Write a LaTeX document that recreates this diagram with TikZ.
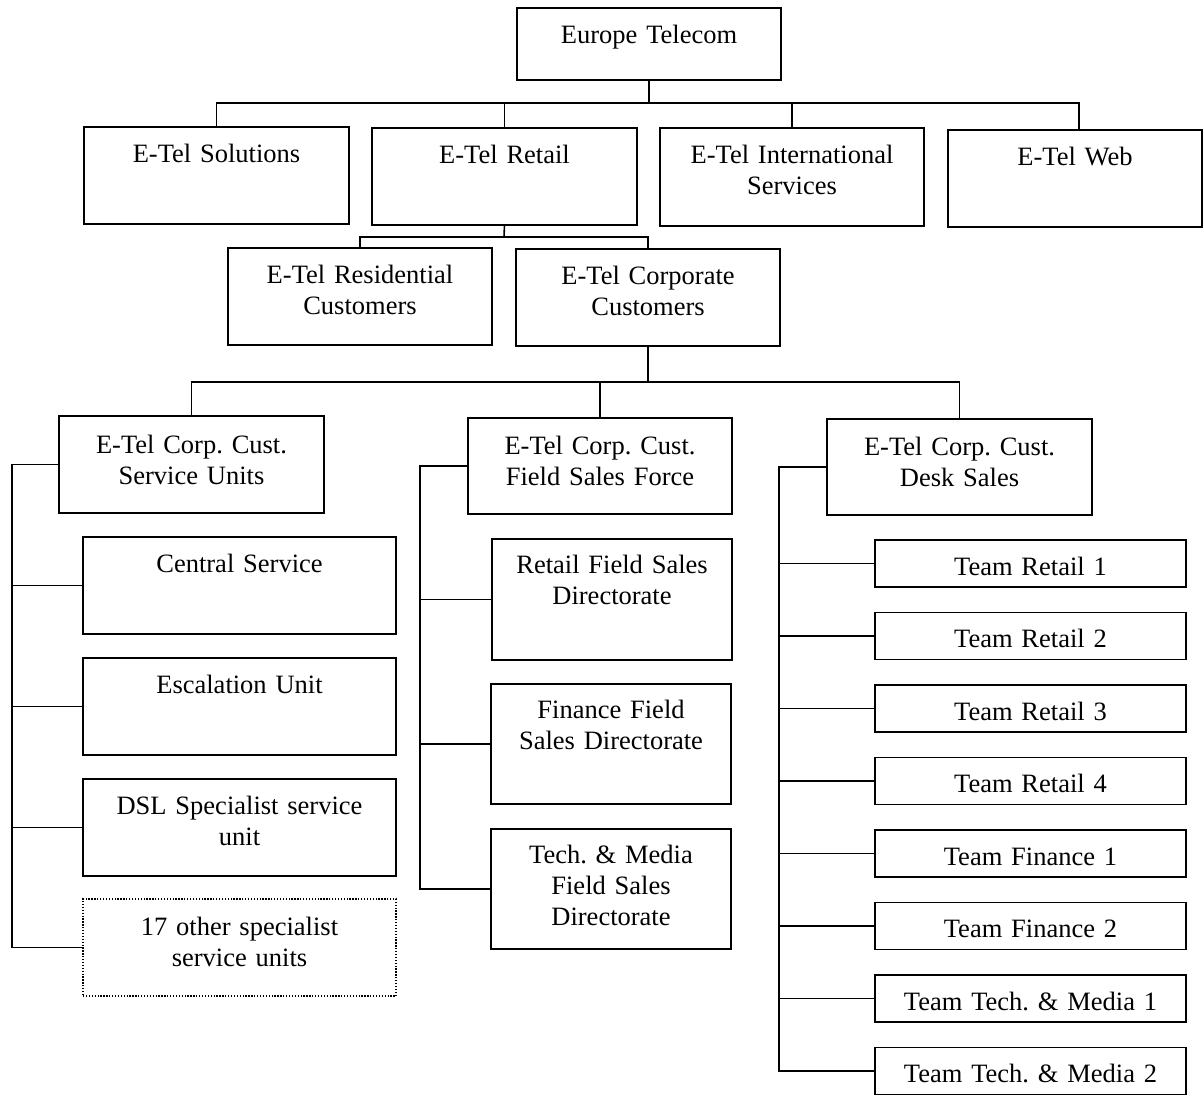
\documentclass[tikz,border=0pt]{standalone}
\usepackage{fontspec}
\setmainfont{Liberation Serif}
\frenchspacing
\begin{document}
\begin{tikzpicture}[x=1pt,y=-1pt,
  box/.style={draw, line width=1.8pt, inner sep=0pt, outer sep=0pt, anchor=north west},
  dotbox/.style={box, line width=1.3pt, dash pattern=on 1.3pt off 1.6pt},
  lbl/.style={font=\fontsize{26.5}{31}\selectfont, align=center, text width=330pt, inner sep=0pt, anchor=base},
  conn/.style={line width=1.6pt}]
\useasboundingbox (0,0) rectangle (1204,1096);

% level 0
\node[box, minimum width=264pt, minimum height=72pt] (top) at (517,8) {};
\node[lbl] (topT) at ([yshift=-35pt]top.north) {Europe Telecom};

% level 1
\node[box, minimum width=265pt, minimum height=97pt] (sol) at (84,127) {};
\node[lbl] (solT) at ([yshift=-35pt]sol.north) {E-Tel Solutions};
\node[box, minimum width=265pt, minimum height=97pt] (ret) at (372,128) {};
\node[lbl] (retT) at ([yshift=-35pt]ret.north) {E-Tel Retail};
\node[box, minimum width=264pt, minimum height=98pt] (intl) at (660,128) {};
\node[lbl] (intlT) at ([yshift=-35pt]intl.north) {E-Tel International\\Services};
\node[box, minimum width=254pt, minimum height=97pt] (web) at (948,130) {};
\node[lbl] (webT) at ([yshift=-35pt]web.north) {E-Tel Web};

% level 2
\node[box, minimum width=264pt, minimum height=97pt] (res) at (228,248) {};
\node[lbl] (resT) at ([yshift=-35pt]res.north) {E-Tel Residential\\Customers};
\node[box, minimum width=264pt, minimum height=97pt] (corp) at (516,249) {};
\node[lbl] (corpT) at ([yshift=-35pt]corp.north) {E-Tel Corporate\\Customers};

% level 3
\node[box, minimum width=265pt, minimum height=97pt] (su) at (59,416) {};
\node[lbl] (suT) at ([yshift=-37pt]su.north) {E-Tel Corp. Cust.\\Service Units};
\node[box, minimum width=264pt, minimum height=96pt] (fsf) at (468,418) {};
\node[lbl] (fsfT) at ([yshift=-36pt]fsf.north) {E-Tel Corp. Cust.\\Field Sales Force};
\node[box, minimum width=265pt, minimum height=96pt] (ds) at (827,419) {};
\node[lbl] (dsT) at ([yshift=-36pt]ds.north) {E-Tel Corp. Cust.\\Desk Sales};

% service units
\node[box, minimum width=313pt, minimum height=97pt] (cs) at (83,537) {};
\node[lbl] (csT) at ([yshift=-35pt]cs.north) {Central Service};
\node[box, minimum width=313pt, minimum height=97pt] (esc) at (83,658) {};
\node[lbl] (escT) at ([yshift=-35pt]esc.north) {Escalation Unit};
\node[box, minimum width=313pt, minimum height=97pt] (dsl) at (83,779) {};
\node[lbl] (dslT) at ([yshift=-35pt]dsl.north) {DSL Specialist service\\unit};
\node[dotbox, minimum width=313pt, minimum height=97pt] (oth) at (83,899) {};
\node[lbl] (othT) at ([yshift=-36pt]oth.north) {17 other specialist\\service units};

% field sales
\node[box, minimum width=240pt, minimum height=121pt] (rfs) at (492,539) {};
\node[lbl] (rfsT) at ([yshift=-34pt]rfs.north) {Retail Field Sales\\Directorate};
\node[box, minimum width=240pt, minimum height=120pt] (ffs) at (491,684) {};
\node[lbl] (ffsT) at ([yshift=-34pt]ffs.north) {Finance Field\\Sales Directorate};
\node[box, minimum width=240pt, minimum height=120pt] (tfs) at (491,829) {};
\node[lbl] (tfsT) at ([yshift=-34pt]tfs.north) {Tech. \& Media\\Field Sales\\Directorate};

% desk sales teams
\foreach \i/\yy/\txt in {1/540/Team Retail 1, 2/612.5/Team Retail 2, 3/685/Team Retail 3, 4/757.5/Team Retail 4, 5/830/Team Finance 1, 6/902.5/Team Finance 2, 7/975/Team Tech. \& Media 1, 8/1047.5/Team Tech. \& Media 2}{
  \node[box, minimum width=311pt, minimum height=47pt] (t\i) at (875,\yy) {};
  \node[lbl] (t\i T) at ([yshift=-35pt]t\i.north) {\txt};
}

% connectors
\coordinate (b1) at (649,103);
\draw[conn] (top.south) -- (b1);
\draw[conn] (sol.north) |- (b1) -| ([xshift=4pt]web.north);
\draw[conn] (ret.north) -- (ret.north |- b1);
\draw[conn] (intl.north) -- (intl.north |- b1);

\coordinate (b2) at (504,237);
\draw[conn] (ret.south) -- (b2);
\draw[conn] (res.north) |- (b2) -| (corp.north);

\coordinate (b3) at (648,382);
\draw[conn] (corp.south) -- (b3);
\draw[conn] (su.north) |- (b3) -| (ds.north);
\draw[conn] (fsf.north) -- (fsf.north |- b3);

\coordinate (s1) at (12,0);
\draw[conn] (su.west) -- (su.west -| s1) |- (oth.west);
\foreach \n in {cs,esc,dsl} \draw[conn] (\n.west) -- (\n.west -| s1);

\coordinate (s2) at (420,0);
\draw[conn] (fsf.west) -- (fsf.west -| s2) |- (tfs.west);
\foreach \n in {rfs,ffs} \draw[conn] (\n.west) -- (\n.west -| s2);

\coordinate (s3) at (779,0);
\draw[conn] (ds.west) -- (ds.west -| s3) |- (t8.west);
\foreach \n in {t1,t2,t3,t4,t5,t6,t7} \draw[conn] (\n.west) -- (\n.west -| s3);
\end{tikzpicture}
\end{document}
